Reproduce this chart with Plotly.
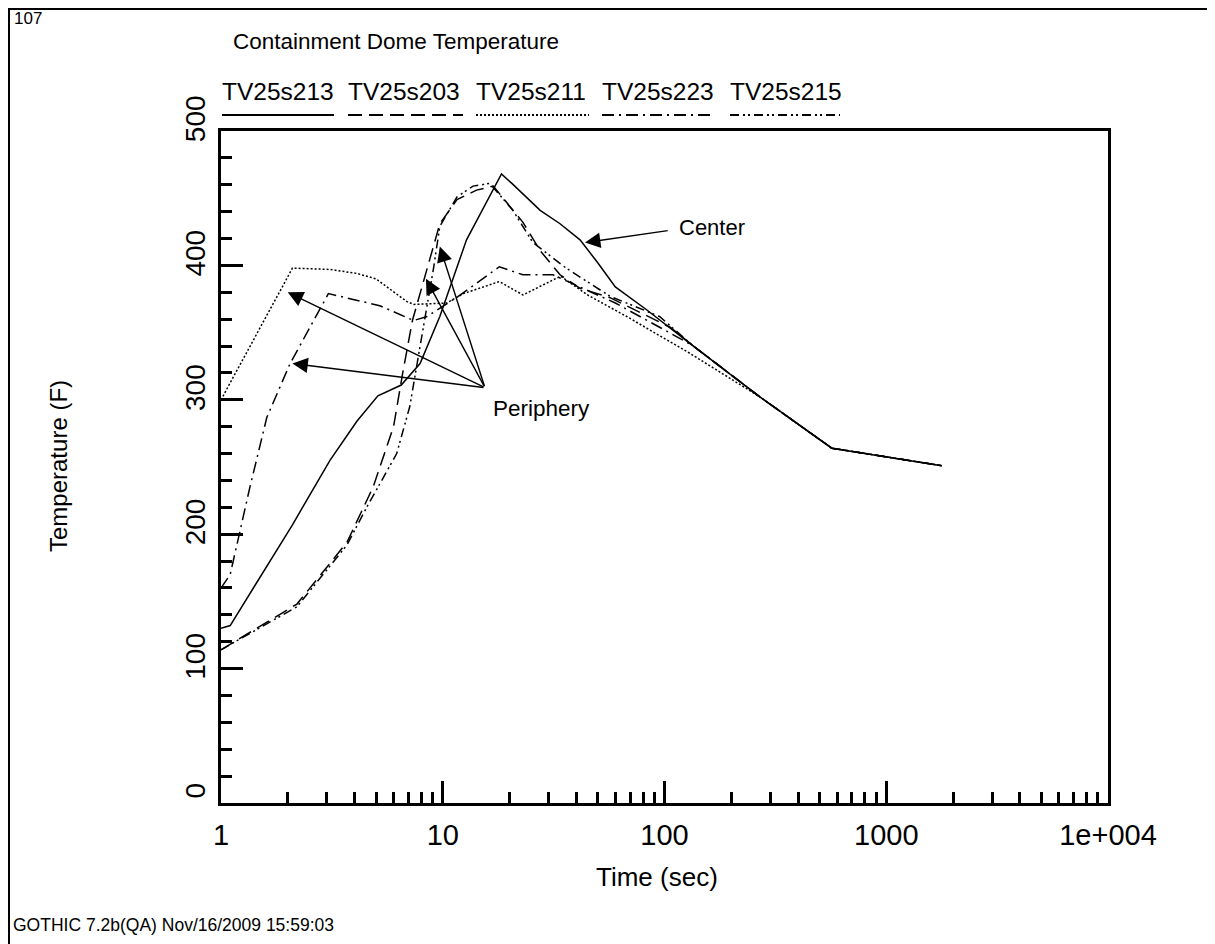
import math
import plotly.graph_objects as go

# ── Data (time in s, temperature in F) ──
t_213 = [1, 1.1, 2.1, 3.1, 4.1, 5.1, 6.5, 7.9, 9.7, 12.8, 18.4, 20.5, 27.5, 33.8,
         41.6, 50, 60, 83, 135, 270, 568, 1778]
T_213 = [130, 132, 207, 255, 284, 303, 311, 327, 362, 419, 468, 461, 441, 431,
         419, 402, 384, 367, 340, 302, 264, 251]

t_203 = [1, 2.2, 3.7, 4.85, 6.0, 6.6, 7.3, 8.5, 9.7, 11.6, 14.2, 16.9, 23, 27.5,
         33.8, 41.6, 56.8, 106, 135, 270, 568, 1778]
T_203 = [114, 148, 194, 235, 280, 320, 359, 397, 431, 449, 456, 459, 432, 411,
         393, 383, 376, 354, 340, 302, 264, 251]

t_211 = [1, 2.1, 3.1, 4.1, 5.0, 5.8, 6.9, 7.4, 10.4, 12.4, 18, 23, 34, 45, 67.5,
         126, 270, 568, 1778]
T_211 = [300, 398, 397, 394, 390, 382, 373, 371, 372, 379, 388, 378, 392, 378, 362,
         336, 302, 264, 251]

t_223 = [1, 1.1, 1.35, 1.61, 2.05, 3.05, 5.2, 7.4, 8.5, 12, 18, 23, 31.4, 40, 60,
         100, 135, 270, 568, 1778]
T_223 = [160, 170, 235, 287, 327, 379, 370, 359, 362, 378, 399, 393, 393, 385, 372,
         352, 340, 302, 264, 251]

t_215 = [1, 2.2, 3.7, 4.54, 6.2, 7.1, 8.0, 9.07, 9.7, 11.6, 13.7, 16.3, 20.7, 25.5,
         36, 56.8, 95, 135, 270, 568, 1778]
T_215 = [114, 146, 192, 220, 260, 295, 345, 397, 429, 451, 459, 461, 441, 417,
         398, 377, 362, 340, 302, 264, 251]

names  = ["TV25s213", "TV25s203", "TV25s211", "TV25s223", "TV25s215"]
dashes = ["solid", "14px,7px", "2px,2px", "12px,5px,2px,5px", "9px,4px,2px,3px,2px,4px"]
series = [(t_213, T_213), (t_203, T_203), (t_211, T_211), (t_223, T_223), (t_215, T_215)]

x_tickvals = [1, 10, 100, 1000, 10000]
x_ticktext = ["1", "10", "100", "1000", "1e+004"]

# annotation arrows (time, temperature)
periphery_tail = (15.5, 309)
periphery_tips = [(2.0, 380), (2.1, 327), (8.4, 390), (9.7, 414)]
center_tail = (105, 426)
center_tip = (43.8, 417)

FONT = "Liberation Sans, Arial, sans-serif"
PAGE_W, PAGE_H = 1215, 944
OFF = 8                              # the html body margin
L, R, T, B = 221, 1108, 131, 803     # plot box, page pixels


def px(x):
    return (x - L) / (R - L)


def py(y):
    return (B - y) / (B - T)


fig = go.Figure()
for (tt, TT), name, dash in zip(series, names, dashes):
    fig.add_trace(go.Scatter(
        x=tt, y=TT, mode="lines", name=name,
        line=dict(color="black", width=1.5, dash=dash),
        showlegend=False,
    ))

# ── legend drawn GOTHIC-style: label over a line sample ──
leg_x = [222, 348, 476, 602, 730]
leg_w = [112, 115, 113, 112, 110]
shapes = []
annotations = []
for x0, w, name, dash in zip(leg_x, leg_w, names, dashes):
    shapes.append(dict(type="line", xref="paper", yref="paper",
                       x0=px(x0), x1=px(x0 + w), y0=py(115), y1=py(115),
                       line=dict(color="black", width=2, dash=dash)))
    annotations.append(dict(text=name, xref="paper", yref="paper",
                            x=px(x0 - 2), y=py(91), xanchor="left", yanchor="middle",
                            showarrow=False, font=dict(size=24.5)))

# outer page frame
shapes.append(dict(type="rect", xref="paper", yref="paper",
                   x0=px(OFF + 1), x1=px(1212), y0=py(990), y1=py(OFF + 1),
                   line=dict(color="black", width=2)))

annotations += [
    dict(text="107", xref="paper", yref="paper", x=px(12), y=py(19),
         xanchor="left", yanchor="middle", showarrow=False, font=dict(size=17)),
    dict(text="Containment Dome Temperature", xref="paper", yref="paper",
         x=px(231), y=py(42), xanchor="left", yanchor="middle",
         showarrow=False, font=dict(size=22.5)),
    dict(text="GOTHIC 7.2b(QA) Nov/16/2009 15:59:03", xref="paper", yref="paper",
         x=px(11), y=py(925), xanchor="left", yanchor="middle",
         showarrow=False, font=dict(size=17.5)),
    dict(text="Time (sec)", xref="paper", yref="paper", x=px(657), y=py(877),
         xanchor="center", yanchor="middle", showarrow=False, font=dict(size=26)),
    dict(text="Temperature (F)", xref="paper", yref="paper", x=px(58), y=py(466),
         xanchor="center", yanchor="middle", textangle=-90,
         showarrow=False, font=dict(size=24)),
    dict(text="Periphery", x=math.log10(periphery_tail[0]), y=periphery_tail[1],
         xanchor="left", yanchor="top", xshift=6, yshift=-6,
         showarrow=False, font=dict(size=22.5)),
    dict(text="Center", x=math.log10(center_tail[0]), y=center_tail[1],
         xanchor="left", yanchor="middle", xshift=8, yshift=3,
         showarrow=False, font=dict(size=22)),
    dict(text="", x=math.log10(center_tip[0]), y=center_tip[1],
         ax=math.log10(center_tail[0]), ay=center_tail[1], axref="x", ayref="y",
         showarrow=True, arrowhead=2, arrowsize=2.2, arrowwidth=1.4, arrowcolor="black"),
]
for tx, ty in periphery_tips:
    annotations.append(dict(
        text="", x=math.log10(tx), y=ty,
        ax=math.log10(periphery_tail[0]), ay=periphery_tail[1], axref="x", ayref="y",
        showarrow=True, arrowhead=2, arrowsize=2.2, arrowwidth=1.4, arrowcolor="black",
    ))

x_minor = [m * 10 ** k for k in range(4) for m in range(2, 10)]

fig.update_layout(
    width=PAGE_W - OFF, height=PAGE_H - OFF,
    margin=dict(l=L - OFF, r=PAGE_W - R, t=T - OFF, b=PAGE_H - B),
    plot_bgcolor="white", paper_bgcolor="white",
    font=dict(family=FONT, size=24, color="black"),
    shapes=shapes, annotations=annotations,
    xaxis=dict(
        type="log", range=[0, 4],
        tickvals=x_tickvals, ticktext=x_ticktext,
        ticks="inside", ticklen=22, tickwidth=2.5, tickcolor="black",
        minor=dict(tickvals=x_minor, ticks="inside", ticklen=11,
                   tickwidth=2.5, tickcolor="black", showgrid=False),
        showline=True, linewidth=3, linecolor="black", mirror=True,
        showgrid=False, zeroline=False,
        tickfont=dict(size=29), ticklabelstandoff=4,
    ),
    yaxis=dict(
        range=[0, 500], dtick=100, tickangle=-90,
        ticks="inside", ticklen=22, tickwidth=2.5, tickcolor="black",
        minor=dict(dtick=20, ticks="inside", ticklen=11,
                   tickwidth=2.5, tickcolor="black", showgrid=False),
        showline=True, linewidth=3, linecolor="black", mirror=True,
        showgrid=False, zeroline=False,
        tickfont=dict(size=28), ticklabelshift=-8, ticklabelstandoff=2,
    ),
)

fig.write_html("out.html")
